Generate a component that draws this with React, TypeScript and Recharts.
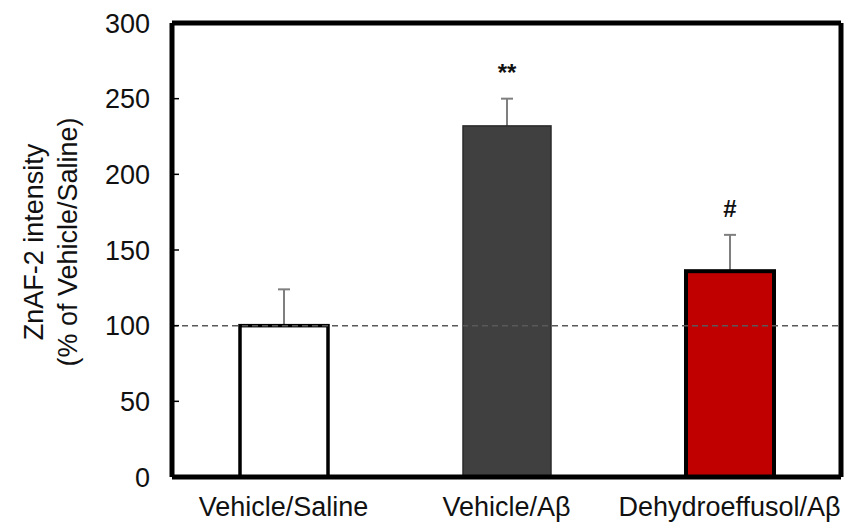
import React from 'react';
import {
  BarChart,
  Bar,
  XAxis,
  YAxis,
  ReferenceLine,
} from 'recharts';

// group labels, mean values (% of Vehicle/Saline), SEM and significance marks
const groups = ['Vehicle/Saline', 'Vehicle/A\u03b2', 'Dehydroeffusol/A\u03b2'];
const means = [100, 232, 136];
const sems = [24, 18, 24];
const marks = ['', '**', '#'];
const yTicks = [0, 50, 100, 150, 200, 250, 300];

const fills = ['#ffffff', '#404040', '#c00000'];
const strokes = ['#000000', '#2a2a2a', '#000000'];
const strokeWidths = [3.5, 1.5, 4];

const data = groups.map((name, i) => ({
  name,
  value: means[i],
  sem: sems[i],
  mark: marks[i],
  idx: i,
}));

const FONT = '"Liberation Sans", Arial, sans-serif';
const FRAME = { stroke: '#000', strokeWidth: 5 };

const BarWithError = (props: any) => {
  const { x, y, width, height, payload } = props;
  const i = payload.idx;
  const pxPerUnit = height / payload.value;
  const errTop = y - payload.sem * pxPerUnit;
  const cx = x + width / 2;
  return (
    <g>
      <line x1={cx} y1={y} x2={cx} y2={errTop} stroke="#7f7f7f" strokeWidth={2} />
      <line x1={cx - 6} y1={errTop} x2={cx + 6} y2={errTop} stroke="#7f7f7f" strokeWidth={2} />
      <rect
        x={x}
        y={y}
        width={width}
        height={height}
        fill={fills[i]}
        stroke={strokes[i]}
        strokeWidth={strokeWidths[i]}
      />
      {payload.mark ? (
        <text
          x={cx}
          y={errTop - 26}
          textAnchor="middle"
          dy="0.355em"
          fontFamily={FONT}
          fontSize={24}
          fontWeight="bold"
          fill="#111"
        >
          {payload.mark}
        </text>
      ) : null}
    </g>
  );
};

const YTick = (props: any) => {
  const { x, y, payload } = props;
  const axisX = x + 22;
  return (
    <g>
      <line x1={axisX} y1={y} x2={axisX + 7} y2={y} stroke="#000" strokeWidth={1.5} />
      <text x={x} y={y} dy="0.355em" textAnchor="end" fontFamily={FONT} fontSize={27} fill="#111">
        {payload.value}
      </text>
    </g>
  );
};

const XTick = (props: any) => {
  const { x, y, payload } = props;
  return (
    <text x={x} y={y + 27} dy="0.355em" textAnchor="middle" fontFamily={FONT} fontSize={27} fill="#111">
      {payload.value}
    </text>
  );
};

const YTitle = () => (
  <g fontFamily={FONT} fontSize={27} fill="#111">
    <text x={25} y={234} textAnchor="middle" dy="0.355em" transform="rotate(-90 25 234)">
      ZnAF-2 intensity
    </text>
    <text x={59} y={234} textAnchor="middle" dy="0.355em" transform="rotate(-90 59 234)">
      (% of Vehicle/Saline)
    </text>
  </g>
);

export default function App() {
  return (
    <BarChart
      width={849}
      height={517}
      data={data}
      margin={{ top: 0, right: 0, bottom: 0, left: 0 }}
      style={{ background: '#fff' }}
    >
      <XAxis
        dataKey="name"
        height={48}
        axisLine={FRAME}
        tickLine={false}
        tickSize={0}
        tick={<XTick />}
        interval={0}
      />
      <XAxis
        xAxisId="top"
        dataKey="name"
        orientation="top"
        height={15}
        axisLine={FRAME}
        tickLine={false}
        tick={false}
      />
      <YAxis
        width={164}
        domain={[0, 300]}
        ticks={yTicks}
        interval={0}
        axisLine={FRAME}
        tickLine={false}
        tickSize={0}
        tickMargin={22}
        tick={<YTick />}
        label={{ content: () => <YTitle /> }}
      />
      <YAxis
        yAxisId="right"
        orientation="right"
        width={16}
        domain={[0, 300]}
        axisLine={FRAME}
        tickLine={false}
        tick={false}
      />
      <ReferenceLine y={100} stroke="#595959" strokeWidth={1.5} strokeDasharray="6 4" />
      <Bar dataKey="value" barSize={88} shape={<BarWithError />} isAnimationActive={false} />
    </BarChart>
  );
}
